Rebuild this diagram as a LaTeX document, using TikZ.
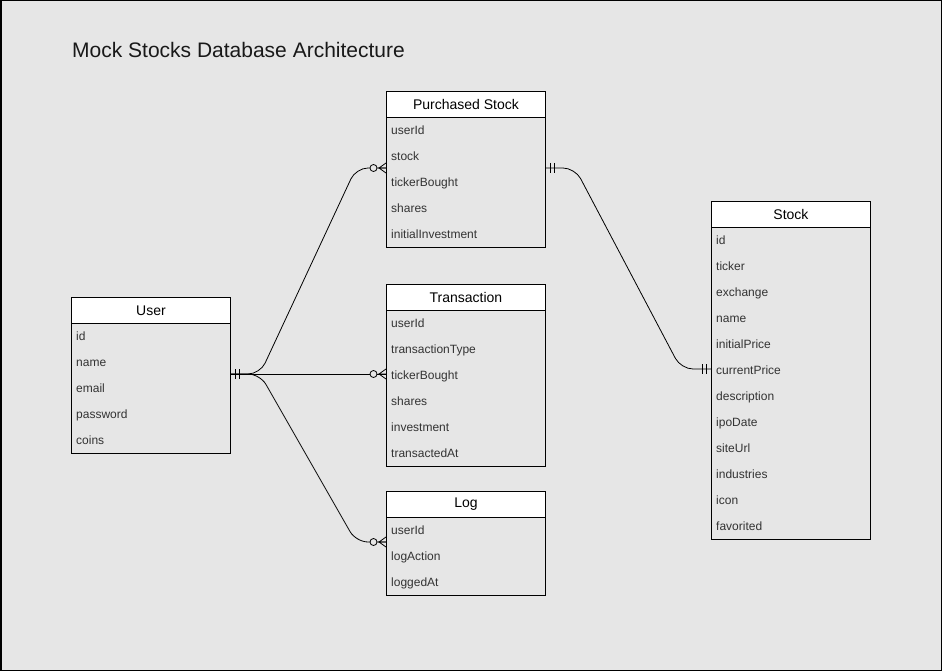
\documentclass[tikz,border=0pt]{standalone}
\usepackage{fontspec}
\setmainfont{Liberation Sans}
\usetikzlibrary{calc}
\definecolor{bg}{HTML}{E6E6E6}
\definecolor{fieldtxt}{HTML}{333333}
\tikzset{
  hdr/.style={draw=black, fill=white, line width=0.9pt, minimum width=159, minimum height=26, inner sep=0pt, anchor=north west, font=\fontsize{14}{16}\selectfont},
  body/.style={draw=black, line width=0.9pt, minimum width=159, inner sep=0pt, anchor=north west},
  fld/.style={anchor=base west, inner sep=0pt, text=fieldtxt, font=\fontsize{12}{14}\selectfont},
  conn/.style={draw=black, line width=0.8pt, rounded corners=12},
  zmany/.pic={
    \draw[line width=0.8pt, fill=bg] (-12.5,0) circle (3.5);
    \draw[line width=0.8pt] (-8,0) -- (0,0) (-7,0) -- (0,5) (-7,0) -- (0,-5);
  },
  mone/.pic={
    \draw[line width=0.8pt] (5,-5) -- (5,5) (9,-5) -- (9,5);
  }
}
\begin{document}
\begin{tikzpicture}[x=1pt,y=-1pt]
\useasboundingbox (0,0) rectangle (942,671);
\draw[fill=bg, draw=black, line width=1.5pt] (0.75,0.75) rectangle (941.25,670.25);

\node[anchor=base west, inner sep=0pt, text=black!90, font=\fontsize{21}{25}\selectfont] (title) at (72,57.5) {Mock Stocks Database Architecture};

% Purchased Stock
\node[hdr] (ps) at (386,91) {Purchased Stock};
\node[body, minimum height=130] (psb) at (386,117) {};
\foreach \t [count=\i] in {userId,stock,tickerBought,shares,initialInvestment}
  \node[fld] (ps-\i) at (391,{117+26*\i-13+4.5}) {\t};

% Transaction
\node[hdr] (tr) at (386,284) {Transaction};
\node[body, minimum height=156] (trb) at (386,310) {};
\foreach \t [count=\i] in {userId,transactionType,tickerBought,shares,investment,transactedAt}
  \node[fld] (tr-\i) at (391,{310+26*\i-13+4.5}) {\t};

% Log
\node[hdr] (lg) at (386,491) {Log};
\node[body, minimum height=78] (lgb) at (386,517) {};
\foreach \t [count=\i] in {userId,logAction,loggedAt}
  \node[fld] (lg-\i) at (391,{517+26*\i-13+4.5}) {\t};

% User
\node[hdr] (us) at (71,297) {User};
\node[body, minimum height=130] (usb) at (71,323) {};
\foreach \t [count=\i] in {id,name,email,password,coins}
  \node[fld] (us-\i) at (76,{323+26*\i-13+4.5}) {\t};

% Stock
\node[hdr] (st) at (711,201) {Stock};
\node[body, minimum height=312] (stb) at (711,227) {};
\foreach \t [count=\i] in {id,ticker,exchange,name,initialPrice,currentPrice,description,ipoDate,siteUrl,industries,icon,favorited}
  \node[fld] (st-\i) at (716,{227+26*\i-13+4.5}) {\t};

% ports
\coordinate (u-port) at (230,374);
\coordinate (ps-in) at (386,168);
\coordinate (ps-out) at (545,168);
\coordinate (tr-in) at (386,374);
\coordinate (lg-in) at (386,542);
\coordinate (st-in) at (711,369);

% connectors
\draw[conn] (u-port) -- ++(30,0) -- ($(ps-in)+(-30,0)$) -- (ps-in);
\draw[conn] (u-port) -- (tr-in);
\draw[conn] (u-port) -- ++(30,0) -- ($(lg-in)+(-30,0)$) -- (lg-in);
\draw[conn] (ps-out) -- ++(30,0) -- ($(st-in)+(-30,0)$) -- (st-in);

% end markers
\pic at (u-port) {mone};
\pic at (ps-out) {mone};
\pic[xscale=-1] at (st-in) {mone};
\pic at (ps-in) {zmany};
\pic at (tr-in) {zmany};
\pic at (lg-in) {zmany};
\end{tikzpicture}
\end{document}
